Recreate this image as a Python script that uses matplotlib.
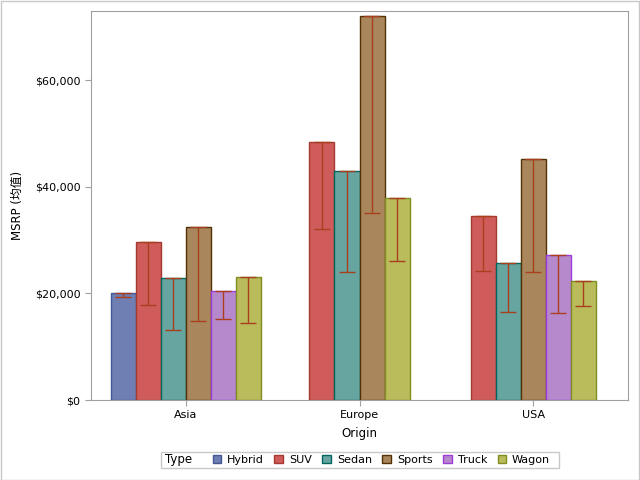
import numpy as np
import matplotlib
matplotlib.use("Agg")
import matplotlib.pyplot as plt
from matplotlib.patches import Rectangle
from matplotlib.ticker import FuncFormatter

origins = ["Asia", "Europe", "USA"]
types = ["Hybrid", "SUV", "Sedan", "Sports", "Truck", "Wagon"]

# mean MSRP per origin/type (None = no cars of that type)
means = {
    "Asia":   [20000, 29570, 22800, 32500, 20380, 23130],
    "Europe": [None, 48350, 43000, 72000, None, 37800],
    "USA":    [None, 34560, 25600, 45250, 27250, 22300],
}
# lower limit of error bar
lowers = {
    "Asia":   [19250, 17750, 13150, 14900, 15150, 14450],
    "Europe": [None, 32000, 24050, 35000, None, 26000],
    "USA":    [None, 24130, 16500, 23950, 16250, 17700],
}

fills = ["#6F7EB3", "#D05B5B", "#66A5A0", "#A9865B", "#B689CD", "#BABC5C"]
edges = ["#445694", "#A23A2E", "#01665E", "#543005", "#9D3CDB", "#7F8E1F"]
err_color = "#A8401E"

plt.rcParams['font.family'] = ['DejaVu Sans', 'Noto Sans CJK SC']
plt.rcParams['font.size'] = 8

fig = plt.figure(figsize=(6.4, 4.8), dpi=100)
ax = fig.add_axes([91/640, 80/480, 537/640, 389/480])

width = 0.144
for i, org in enumerate(origins):
    present = [j for j, v in enumerate(means[org]) if v is not None]
    n = len(present)
    for k, j in enumerate(present):
        x = i + (k - (n - 1) / 2) * width
        m = means[org][j]
        lo = lowers[org][j]
        ax.bar(x, m, width=width, color=fills[j], edgecolor=edges[j],
               linewidth=1, zorder=2)
        ax.errorbar(x, m, yerr=[[m - lo], [0]], fmt="none", ecolor=err_color,
                    elinewidth=1, capsize=5.5, capthick=1, zorder=3)

ax.set_xlim(-0.545, 2.545)
ax.set_ylim(0, 72940)
ax.set_xticks(range(len(origins)))
ax.set_xticklabels(origins)
ax.set_yticks([0, 20000, 40000, 60000])
ax.yaxis.set_major_formatter(FuncFormatter(lambda v, p: "${:,.0f}".format(v)))
for s in ax.spines.values():
    s.set_color("#A0A0A0")
ax.tick_params(colors="#A0A0A0", labelcolor="black", length=4, labelsize=8)
ax.set_xlabel("Origin", fontsize=8.5, labelpad=5)
ax.set_ylabel("MSRP (均值)", fontsize=8.5, labelpad=8)

# legend
handles = [Rectangle((0, 0), 1, 1, facecolor=f, edgecolor=e, linewidth=1)
           for f, e in zip(fills, edges)]
fig.legend(handles, types, loc="center left", bbox_to_anchor=(207/640, 20/480),
           ncol=6, frameon=False, borderpad=0, handlelength=0.8, handleheight=0.8,
           handletextpad=0.5, columnspacing=0.95, fontsize=8)
fig.text(165/640, 20/480, "Type", ha="left", va="center", fontsize=8.5)
fig.patches.append(Rectangle((161/640, 12/480), 398/640, 16/480,
                             transform=fig.transFigure, fill=False,
                             edgecolor="#C8C8C8", linewidth=1))
fig.patches.append(Rectangle((0.5/640, 0.5/480), 638.5/640, 478.5/480,
                             transform=fig.transFigure, fill=False,
                             edgecolor="#C8C8C8", linewidth=1))

fig.savefig("out.png", dpi=100)
